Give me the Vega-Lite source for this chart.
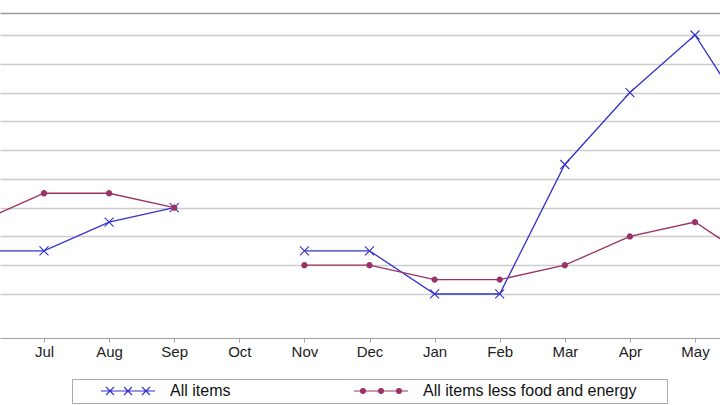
{
  "$schema": "https://vega.github.io/schema/vega-lite/v6.json",
  "width": 720,
  "height": 325,
  "autosize": {"type": "none"},
  "padding": {"left": 0, "top": 13, "right": 0, "bottom": 67},
  "background": "white",
  "config": {
    "view": {"stroke": null},
    "font": "Liberation Sans",
    "legend": {
      "orient": "none", "legendX": 72, "legendY": 366,
      "direction": "horizontal", "columns": 2, "columnPadding": 98,
      "padding": 4, "symbolOffset": 44, "strokeColor": "#aaaaaa", "fillColor": "white",
      "labelFontSize": 16, "labelFont": "Liberation Sans", "labelColor": "#111111",
      "labelOffset": 34, "symbolSize": 100, "symbolOpacity": 1, "symbolStrokeWidth": 1.1,
      "labelLimit": 400,
      "titleOrient": "right", "titlePadding": 27, "titleFontSize": 14, "titleAnchor": "middle"
    }
  },
  "data": {"values": [
    {"i": 0, "month": "Jun", "series": "All items", "value": 2.7},
    {"i": 1, "month": "Jul", "series": "All items", "value": 2.7},
    {"i": 2, "month": "Aug", "series": "All items", "value": 2.9},
    {"i": 3, "month": "Sep", "series": "All items", "value": 3.0},
    {"i": 4, "month": "Oct", "series": "All items", "value": null},
    {"i": 5, "month": "Nov", "series": "All items", "value": 2.7},
    {"i": 6, "month": "Dec", "series": "All items", "value": 2.7},
    {"i": 7, "month": "Jan", "series": "All items", "value": 2.4},
    {"i": 8, "month": "Feb", "series": "All items", "value": 2.4},
    {"i": 9, "month": "Mar", "series": "All items", "value": 3.3},
    {"i": 10, "month": "Apr", "series": "All items", "value": 3.8},
    {"i": 11, "month": "May", "series": "All items", "value": 4.2},
    {"i": 12, "month": "Jun", "series": "All items", "value": 3.5},
    {"i": 0, "month": "Jun", "series": "All items less food and energy", "value": 2.9},
    {"i": 1, "month": "Jul", "series": "All items less food and energy", "value": 3.1},
    {"i": 2, "month": "Aug", "series": "All items less food and energy", "value": 3.1},
    {"i": 3, "month": "Sep", "series": "All items less food and energy", "value": 3.0},
    {"i": 4, "month": "Oct", "series": "All items less food and energy", "value": null},
    {"i": 5, "month": "Nov", "series": "All items less food and energy", "value": 2.6},
    {"i": 6, "month": "Dec", "series": "All items less food and energy", "value": 2.6},
    {"i": 7, "month": "Jan", "series": "All items less food and energy", "value": 2.5},
    {"i": 8, "month": "Feb", "series": "All items less food and energy", "value": 2.5},
    {"i": 9, "month": "Mar", "series": "All items less food and energy", "value": 2.6},
    {"i": 10, "month": "Apr", "series": "All items less food and energy", "value": 2.8},
    {"i": 11, "month": "May", "series": "All items less food and energy", "value": 2.9},
    {"i": 12, "month": "Jun", "series": "All items less food and energy", "value": 2.6}
  ]},
  "encoding": {
    "x": {
      "field": "i", "type": "quantitative",
      "scale": {"domain": [0.324, 11.384], "nice": false, "zero": false},
      "axis": {
        "values": [1, 2, 3, 4, 5, 6, 7, 8, 9, 10, 11],
        "labelExpr": "['Jun','Jul','Aug','Sep','Oct','Nov','Dec','Jan','Feb','Mar','Apr','May','Jun'][datum.value]",
        "title": null, "grid": false,
        "domainColor": "#a0a0a0", "tickColor": "#a0a0a0", "tickSize": 4,
        "labelFontSize": 15, "labelColor": "#222222", "labelPadding": 2,
        "labelFont": "Liberation Sans", "labelFlush": false, "labelOverlap": false
      }
    },
    "y": {
      "field": "value", "type": "quantitative",
      "scale": {"domain": [2.094, 4.353], "nice": false, "zero": false},
      "axis": {
        "values": [2.4, 2.6, 2.8, 3.0, 3.2, 3.4, 3.6, 3.8, 4.0, 4.2, 4.353],
        "title": null, "labels": false, "ticks": false, "domain": false,
        "grid": true,
        "gridColor": {"condition": {"test": "datum.value > 4.3", "value": "#9a9a9a"}, "value": "#cccccc"},
        "gridWidth": {"condition": {"test": "datum.value > 4.3", "value": 1.5}, "value": 1.3}
      }
    }
  },
  "layer": [
    {
      "transform": [{"filter": "datum.series === 'All items'"}],
      "mark": {"type": "line", "clip": true, "strokeWidth": 1.3, "color": "#3333cc", "invalid": "break-paths-filter-domains"}
    },
    {
      "transform": [{"filter": "datum.series !== 'All items'"}],
      "mark": {"type": "line", "clip": true, "strokeWidth": 1.3, "color": "#993366", "invalid": "break-paths-filter-domains"}
    },
    {
      "transform": [{"filter": "datum.series === 'All items' && isValid(datum.value)"}],
      "mark": {"type": "point", "clip": true, "filled": false, "size": 81, "strokeWidth": 1.1, "opacity": 1,
        "color": "#3333cc", "shape": "M-1,-1L1,1M-1,1L1,-1"}
    },
    {
      "transform": [{"filter": "datum.series !== 'All items' && isValid(datum.value)"}],
      "mark": {"type": "point", "clip": true, "filled": true, "size": 81, "opacity": 1,
        "color": "#993366", "shape": "M0.7,0A0.7,0.7 0 1,1 -0.7,0A0.7,0.7 0 1,1 0.7,0Z"}
    },
    {
      "transform": [{"filter": "datum.i < 0"}],
      "mark": {"type": "point", "filled": true},
      "encoding": {
        "color": {"field": "series", "type": "nominal",
          "scale": {"domain": ["All items", "All items less food and energy"], "range": ["#3333cc", "#993366"]},
          "legend": {"title": "\u00a0"}},
        "stroke": {"field": "series", "type": "nominal",
          "scale": {"domain": ["All items", "All items less food and energy"], "range": ["#3333cc", "#993366"]},
          "legend": {"title": "\u00a0"}},
        "shape": {"field": "series", "type": "nominal",
          "scale": {"domain": ["All items", "All items less food and energy"],
            "range": [
              "M-5.4,0H5.4M-4.4,-0.8L-2.8,0.8M-4.4,0.8L-2.8,-0.8M-0.8,-0.8L0.8,0.8M-0.8,0.8L0.8,-0.8M2.8,-0.8L4.4,0.8M2.8,0.8L4.4,-0.8",
              "M-5.4,0H5.4M-3.1,0A0.5,0.5 0 1,1 -4.1,0A0.5,0.5 0 1,1 -3.1,0ZM0.5,0A0.5,0.5 0 1,1 -0.5,0A0.5,0.5 0 1,1 0.5,0ZM4.1,0A0.5,0.5 0 1,1 3.1,0A0.5,0.5 0 1,1 4.1,0Z"
            ]},
          "legend": {"title": "\u00a0"}}
      }
    }
  ]
}
